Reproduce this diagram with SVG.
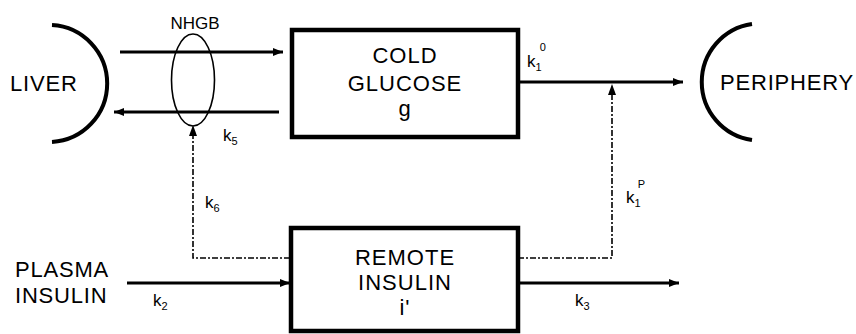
<svg xmlns="http://www.w3.org/2000/svg" width="856" height="334" viewBox="0 0 856 334">
<defs>
<style>
text{font-family:"Liberation Sans",Arial,sans-serif;fill:#000}
.big{font-size:22px;letter-spacing:0.8px}
.box{font-size:22px;text-anchor:middle;letter-spacing:1px}
.k{font-size:17px}
.s{font-size:11px}
.solid{stroke:#000;stroke-width:3;fill:none}
.dash{stroke:#000;stroke-width:1.6;fill:none;stroke-dasharray:6 2 2 2}
.rect{stroke:#000;stroke-width:4.5;fill:#fff}
.arc{stroke:#000;stroke-width:4;fill:none}
</style>
<marker id="ah" viewBox="0 0 10 8" refX="10" refY="4" markerWidth="10" markerHeight="8" markerUnits="userSpaceOnUse" orient="auto">
<path d="M0,0 L10,4 L0,8 Z" fill="#000"/>
</marker>
</defs>
<rect width="856" height="334" fill="#fff"/>
<g id="connectors">
<line class="solid" x1="120" y1="52" x2="283" y2="52" marker-end="url(#ah)"/>
<line class="solid" x1="279" y1="112" x2="114" y2="112" marker-end="url(#ah)"/>
<line class="solid" x1="518" y1="82" x2="683" y2="82" marker-end="url(#ah)"/>
<line class="solid" x1="127" y1="283" x2="290" y2="283" marker-end="url(#ah)"/>
<line class="solid" x1="518" y1="283" x2="679" y2="283" marker-end="url(#ah)"/>
<polyline class="dash" points="290,258 193,258 193,128"/>
<path d="M193,125 L189,136 L197,136 Z" fill="#000"/>
<polyline class="dash" points="518,258 612,258 612,87"/>
<path d="M612,84 L608,95 L616,95 Z" fill="#000"/>
<text class="k" x="223" y="141">k<tspan class="s" dy="4">5</tspan></text>
<text class="k" x="205" y="208">k<tspan class="s" dy="4">6</tspan></text>
<text class="k" x="527" y="67">k<tspan class="s" dy="4">1</tspan><tspan class="s" dx="-2" dy="-20">0</tspan></text>
<text class="k" x="626" y="203">k<tspan class="s" dy="4">1</tspan><tspan class="s" dx="-3" dy="-19">P</tspan></text>
<text class="k" x="153" y="306">k<tspan class="s" dy="4">2</tspan></text>
<text class="k" x="575" y="306">k<tspan class="s" dy="4">3</tspan></text>
</g>
<g id="liver">
<path class="arc" d="M52,25 A58.6,58.6 0 0 1 52,142"/>
<text class="big" x="10" y="91">LIVER</text>
</g>
<g id="nhgb">
<ellipse cx="193" cy="80" rx="21.5" ry="46" fill="none" stroke="#000" stroke-width="1.6"/>
<text x="195" y="29" font-size="17" text-anchor="middle">NHGB</text>
</g>
<g id="cold-glucose">
<rect class="rect" x="292" y="30" width="226" height="107"/>
<text class="box" x="405" y="63">COLD</text>
<text class="box" x="405" y="91">GLUCOSE</text>
<text class="box" x="405" y="116">g</text>
</g>
<g id="periphery">
<path class="arc" d="M752,24 A58.6,58.6 0 0 0 752,140"/>
<text class="big" x="720" y="90">PERIPHERY</text>
</g>
<g id="plasma-insulin">
<text class="big" x="15" y="277">PLASMA</text>
<text class="big" x="15" y="303">INSULIN</text>
</g>
<g id="remote-insulin">
<rect class="rect" x="291" y="228" width="227" height="103"/>
<text class="box" x="405" y="265">REMOTE</text>
<text class="box" x="405" y="290">INSULIN</text>
<text class="box" x="405" y="315">i'</text>
</g>
</svg>
